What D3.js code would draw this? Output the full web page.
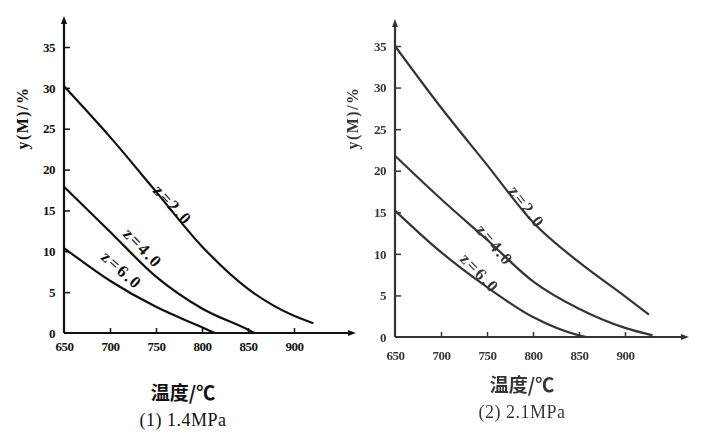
<!DOCTYPE html>
<html>
<head>
<meta charset="utf-8">
<script src="https://cdn.jsdelivr.net/npm/d3@7"></script>
<style>
  body { margin: 0; background: #fff; }
  .tick text { font-family: "Liberation Serif", serif; font-weight: bold; font-size: 13px; fill: #111; letter-spacing: -0.5px; }
</style>
</head>
<body>
<div class="chart"></div>
<script>
// y(M)/% vs temperature
var yTicks = [0, 5, 10, 15, 20, 25, 30, 35];
var xTicks = [650, 700, 750, 800, 850, 900];
var zLabels = ["z=2.0", "z=4.0", "z=6.0"];

// (1) 1.4MPa
var left_z2 = [[650, 30.2], [700, 24.0], [750, 17.3], [800, 10.6], [850, 5.4], [900, 2.1], [921, 1.2]];
var left_z4 = [[650, 17.9], [700, 12.4], [750, 6.9], [800, 3.0], [850, 0.4], [857, 0]];
var left_z6 = [[650, 10.4], [700, 6.4], [750, 3.2], [800, 0.7], [814, 0]];

// (2) 2.1MPa
var right_z2 = [[650, 35.0], [700, 27.6], [750, 20.7], [800, 13.8], [850, 9.0], [900, 4.9], [926, 2.7]];
var right_z4 = [[650, 21.8], [700, 16.6], [750, 11.7], [800, 6.7], [850, 3.4], [900, 1.1], [930, 0.2]];
var right_z6 = [[650, 15.2], [700, 10.2], [750, 6.0], [800, 2.4], [850, 0.2], [858, 0]];

var svg = d3.select(".chart")
  .append("svg")
  .attr("width", 725)
  .attr("height", 434);

function drawPanel(p) {
  var x = d3.scaleLinear().domain([650, 900]).range([p.x0, p.x1]);
  var y = d3.scaleLinear().domain([0, 35]).range([p.y0, p.y1]);
  var g = svg.append("g").attr("opacity", p.opacity);

  // axes, ticks point inward
  var xAxis = g.append("g")
    .attr("transform", `translate(0, ${p.y0})`)
    .call(d3.axisBottom(x).tickValues(xTicks).tickSize(-5).tickPadding(p.xPad));
  var yAxis = g.append("g")
    .attr("transform", `translate(${p.x0}, 0)`)
    .call(d3.axisLeft(y).tickValues(yTicks).tickSize(-6).tickPadding(9));
  [xAxis, yAxis].forEach(function(a) {
    a.select(".domain").remove();
    a.selectAll("line").attr("stroke", "#111").attr("stroke-width", 1.5);
  });
  xAxis.selectAll(".tick").filter(d => d === 650).select("line").remove();
  yAxis.selectAll(".tick").filter(d => d === 0).select("line").remove();

  // axis lines with arrows
  g.append("line").attr("x1", p.x0).attr("y1", p.y0).attr("x2", p.xEnd).attr("y2", p.y0)
    .attr("stroke", "#111").attr("stroke-width", 2.2);
  g.append("line").attr("x1", p.x0).attr("y1", p.y0).attr("x2", p.x0).attr("y2", p.yEnd)
    .attr("stroke", "#111").attr("stroke-width", 2.2);
  g.append("path").attr("d", `M${p.xEnd + 6},${p.y0} L${p.xEnd - 2},${p.y0 - 3} L${p.xEnd - 2},${p.y0 + 3} Z`).attr("fill", "#111");
  g.append("path").attr("d", `M${p.x0},${p.yEnd - 6} L${p.x0 - 3},${p.yEnd + 2} L${p.x0 + 3},${p.yEnd + 2} Z`).attr("fill", "#111");

  // curves
  var line = d3.line()
    .x(d => x(d[0]))
    .y(d => y(d[1]))
    .curve(d3.curveMonotoneX);
  p.series.forEach(function(s, i) {
    g.append("path")
      .datum(s)
      .attr("fill", "none")
      .attr("stroke", "#111")
      .attr("stroke-width", 2.2)
      .attr("d", line);
    g.append("text")
      .attr("transform", `translate(${p.labelPos[i][0]}, ${p.labelPos[i][1]}) rotate(${p.labelPos[i][2]})`)
      .attr("text-anchor", "middle")
      .attr("dy", "0.35em")
      .attr("font-family", "Liberation Serif, serif")
      .attr("font-weight", "bold")
      .attr("font-size", 17)
      .attr("letter-spacing", 2)
      .attr("fill", "#111")
      .text(zLabels[i]);
  });

  // y label
  g.append("text")
    .attr("transform", `translate(${p.yLabelX}, 118) rotate(-90)`)
    .attr("text-anchor", "middle")
    .attr("dy", "0.35em")
    .attr("font-family", "Liberation Serif, serif")
    .attr("font-weight", "bold")
    .attr("font-size", 16)
    .attr("letter-spacing", 1.5)
    .attr("fill", "#111")
    .text("y(M)/%");

  // x label and subtitle
  g.append("text")
    .attr("x", p.titleX).attr("y", p.titleY)
    .attr("text-anchor", "middle")
    .attr("font-family", "Noto Sans CJK SC, sans-serif")
    .attr("font-weight", "bold")
    .attr("font-size", 19)
    .attr("fill", "#111")
    .text("温度/℃");
  g.append("text")
    .attr("x", p.titleX).attr("y", p.titleY + 26)
    .attr("text-anchor", "middle")
    .attr("font-family", "Liberation Serif, serif")
    .attr("font-size", 18)
    .attr("letter-spacing", 0.5)
    .attr("fill", "#111")
    .text(p.subtitle);
}

drawPanel({
  x0: 64, x1: 294, y0: 333, y1: 47, xEnd: 350, yEnd: 22, xPad: 9,
  series: [left_z2, left_z4, left_z6],
  labelPos: [[173, 205, 47], [143, 248, 46], [122, 270, 42]],
  yLabelX: 22, titleX: 183, titleY: 400, subtitle: "(1) 1.4MPa", opacity: 1
});

drawPanel({
  x0: 395, x1: 625, y0: 337, y1: 46, xEnd: 683, yEnd: 25, xPad: 14,
  series: [right_z2, right_z4, right_z6],
  labelPos: [[527, 207, 53], [495, 245, 50], [480, 273, 46]],
  yLabelX: 352, titleX: 522, titleY: 392, subtitle: "(2) 2.1MPa", opacity: 0.85
});
</script>
</body>
</html>
